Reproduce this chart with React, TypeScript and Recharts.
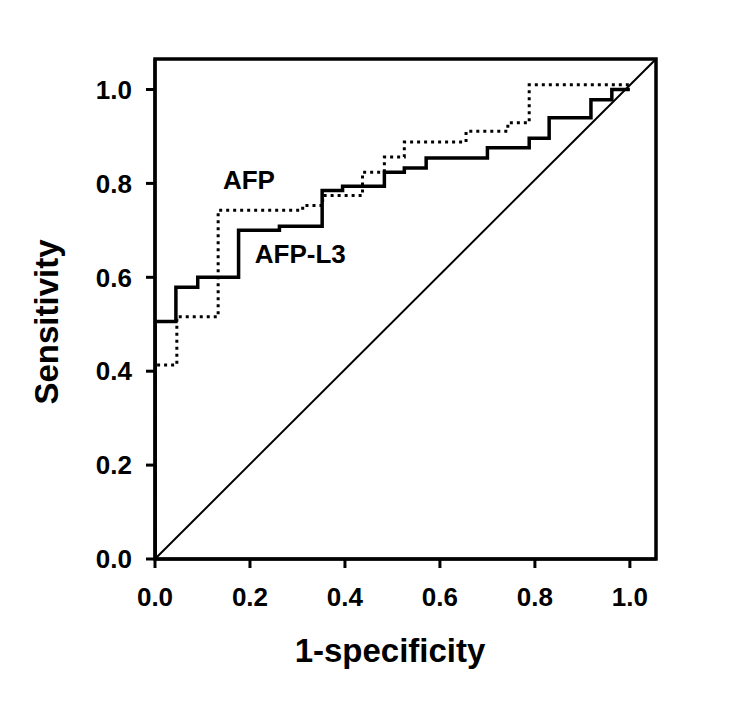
import React from 'react';
import {
  ComposedChart,
  Line,
  XAxis,
  YAxis,
  ReferenceArea,
  ReferenceDot,
} from 'recharts';

// ROC curve points (1-specificity, sensitivity), step-after
const afpL3X = [0, 0, 0.044, 0.09, 0.176, 0.262, 0.352, 0.395, 0.483, 0.525, 0.571, 0.7, 0.788, 0.83, 0.918, 0.962, 1.0];
const afpL3Y = [0, 0.506, 0.579, 0.6, 0.7, 0.709, 0.785, 0.794, 0.824, 0.833, 0.854, 0.876, 0.896, 0.94, 0.978, 1.0, 1.0];

const afpX = [0, 0, 0.046, 0.133, 0.311, 0.353, 0.437, 0.483, 0.525, 0.655, 0.743, 0.788, 1.0];
const afpY = [0, 0.413, 0.516, 0.743, 0.753, 0.774, 0.824, 0.856, 0.888, 0.911, 0.929, 1.01, 1.01];

// chance line, corner to corner
const diagX = [0, 1.055];
const diagY = [0, 1.065];

const ticks = [0, 0.2, 0.4, 0.6, 0.8, 1.0];
const xMax = 1.055;
const yMax = 1.065;

const toPoints = (xs: number[], ys: number[]) => xs.map((x, i) => ({ x, y: ys[i] }));

const afpL3Data = toPoints(afpL3X, afpL3Y);
const afpData = toPoints(afpX, afpY);
const diagData = toPoints(diagX, diagY);

const FONT = '"Liberation Sans", Arial, sans-serif';

const tickStyle = { fill: '#000', fontSize: 26, fontWeight: 700, fontFamily: FONT };

const curveLabel = (text: string) => (props: any) => {
  const { x, y } = props.viewBox;
  return (
    <text x={x} y={y} dominantBaseline="central" textAnchor="start"
      fontFamily={FONT} fontSize={26} fontWeight={700} fill="#000">
      {text}
    </text>
  );
};

export default function App() {
  return (
    <div style={{ width: 731, height: 703, background: '#fff' }}>
      <ComposedChart
        width={731}
        height={703}
        margin={{ top: 51, right: 83, bottom: 92, left: 87 }}
      >
        <XAxis
          type="number"
          dataKey="x"
          domain={[0, xMax]}
          ticks={ticks}
          tickFormatter={(v: number) => v.toFixed(1)}
          stroke="#000"
          strokeWidth={3}
          tickSize={9}
          tickMargin={20}
          tick={tickStyle}
          height={60}
          allowDataOverflow
          label={{
            content: () => (
              <text x={382} y={654} textAnchor="middle" fontFamily={FONT}
                fontSize={33} fontWeight={700} fill="#000">
                1-specificity
              </text>
            ),
          }}
        />
        <YAxis
          type="number"
          dataKey="y"
          domain={[0, yMax]}
          ticks={ticks}
          tickFormatter={(v: number) => v.toFixed(1)}
          stroke="#000"
          strokeWidth={3}
          tickSize={9}
          tickMargin={14}
          tick={tickStyle}
          width={60}
          allowDataOverflow
          label={{
            content: () => (
              <text x={38} y={314} transform="rotate(-90 38 314)" textAnchor="middle"
                dominantBaseline="central" fontFamily={FONT} fontSize={33} fontWeight={700} fill="#000">
                Sensitivity
              </text>
            ),
          }}
        />
        <ReferenceArea x1={0} x2={xMax} y1={0} y2={yMax} fill="none" stroke="#000" strokeWidth={3.5} />
        <Line
          data={diagData}
          dataKey="y"
          type="linear"
          stroke="#000"
          strokeWidth={2}
          dot={false}
          isAnimationActive={false}
        />
        <Line
          data={afpData}
          dataKey="y"
          type="stepAfter"
          stroke="#000"
          strokeWidth={3}
          strokeDasharray="3 4"
          dot={false}
          isAnimationActive={false}
        />
        <Line
          data={afpL3Data}
          dataKey="y"
          type="stepAfter"
          stroke="#000"
          strokeWidth={3.5}
          dot={false}
          isAnimationActive={false}
        />
        <ReferenceDot x={0.143} y={0.807} r={0} stroke="none" fill="none" label={{ content: curveLabel('AFP') }} />
        <ReferenceDot x={0.21} y={0.649} r={0} stroke="none" fill="none" label={{ content: curveLabel('AFP-L3') }} />
      </ComposedChart>
    </div>
  );
}
